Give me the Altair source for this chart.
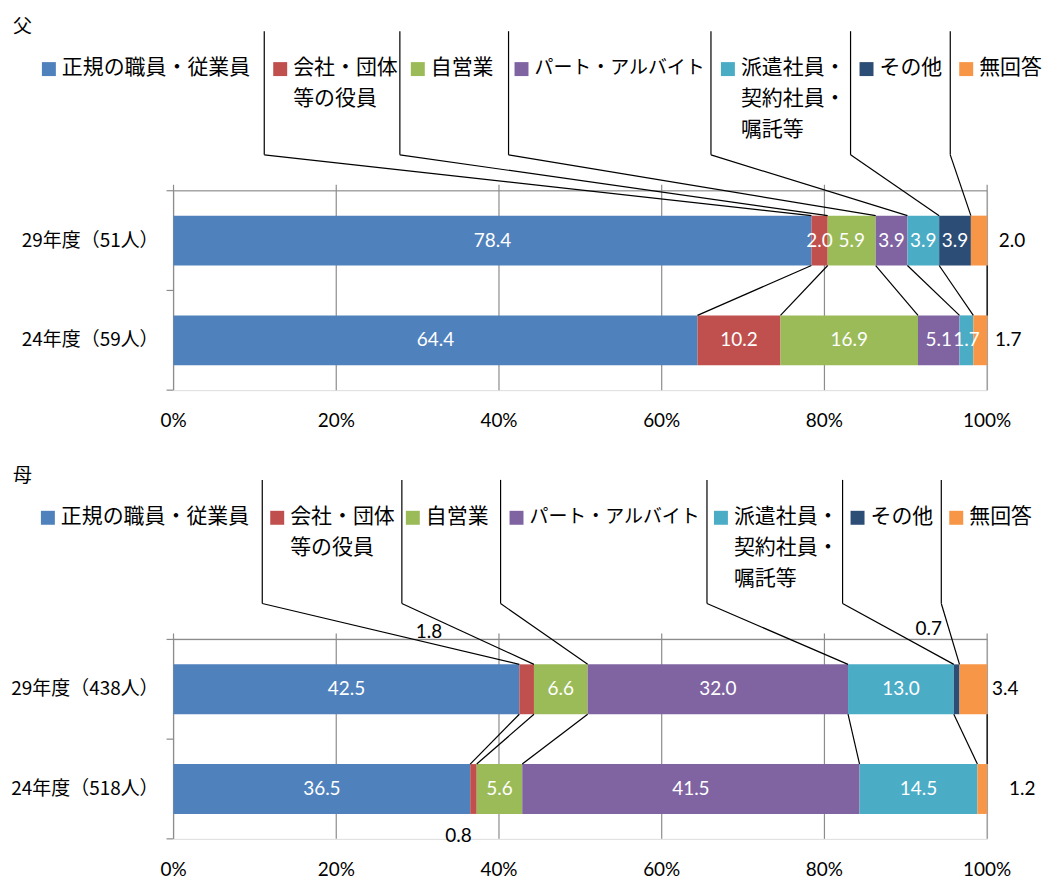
import altair as alt
import pandas as pd

# ---------------- data ----------------
CATEGORIES = ["正規の職員・従業員", "会社・団体等の役員", "自営業", "パート・アルバイト",
              "派遣社員・契約社員・嘱託等", "その他", "無回答"]
LEGEND_LABELS = ["正規の職員・従業員", "会社・団体\n等の役員", "自営業", "パート・アルバイト",
                 "派遣社員・\n契約社員・\n嘱託等", "その他", "無回答"]
COLORS = ["#4F81BD", "#C0504D", "#9BBB59", "#8064A2", "#4BACC6", "#2C4D75", "#F79646"]

FATHER_TITLE = "父"
FATHER_YEARS = ["29年度（51人）", "24年度（59人）"]
FATHER_H29 = [78.4, 2.0, 5.9, 3.9, 3.9, 3.9, 2.0]
FATHER_H24 = [64.4, 10.2, 16.9, 5.1, 1.7, None, 1.7]

MOTHER_TITLE = "母"
MOTHER_YEARS = ["29年度（438人）", "24年度（518人）"]
MOTHER_H29 = [42.5, 1.8, 6.6, 32.0, 13.0, 0.7, 3.4]
MOTHER_H24 = [36.5, 0.8, 5.6, 41.5, 14.5, None, 1.2]

X_TICKS = [0, 20, 40, 60, 80, 100]
X_TICK_LABELS = ["0%", "20%", "40%", "60%", "80%", "100%"]

# ---------------- layout / style ----------------
W, H = 816, 200
STEP = H / 2
BAND = STEP * 0.5
ORIGIN_X = 171          # page x of the 0% line (used only to place legend pieces)
GRID = "#8C8C8C"
CJK = "Noto Sans CJK JP"
NUM = "Lato"
LEG_Y = -123            # first legend line centre (px, relative to plot top)
LINE_H = 31
LEG_FONT = [21, 21, 21, 19, 21, 21, 21]
SEP_TOP, SEP_BOT = -160, -36

# legend swatch left edges and separator lines (page px)
FATHER_SW = [39, 271, 409, 513, 720, 859, 959]
FATHER_SEP = [262, 398, 507, 710, 850, 950]
MOTHER_SW = [38, 268, 404, 508, 713, 850, 949]
MOTHER_SEP = [260, 400, 499, 706, 842, 941]

# label nudges (px): (year index, category index) -> (dx, dy) from segment centre
FATHER_NUDGE = {(0, 6): (33, 0), (1, 6): (28, 0)}
MOTHER_NUDGE = {(0, 1): (-98, -57), (0, 5): (-28, -60), (0, 6): (32, 0),
                (1, 1): (-15, 47), (1, 6): (40, 0)}


def px2d(px):
    return (px - ORIGIN_X) * 100.0 / W


def panel(title, years, v29, v24, sw_px, sep_px, nudge):
    XS = alt.Scale(domain=[0, 100], nice=False, zero=False)
    YS = alt.Scale(domain=years, paddingInner=0.5, paddingOuter=0.25)
    CS = alt.Scale(domain=CATEGORIES, range=COLORS)

    bar_rows, in_rows, out_rows = [], [], []
    starts, ends = [{}, {}], [{}, {}]
    for yi, vals in enumerate([v29, v24]):
        total = sum(v for v in vals if v is not None)
        cum = 0.0
        for ci, v in enumerate(vals):
            if v is None:
                continue
            s = cum
            cum += v * 100.0 / total
            starts[yi][ci], ends[yi][ci] = s, cum
            mid = (s + cum) / 2
            row = dict(year=years[yi], cat=CATEGORIES[ci], start=s, end=cum,
                       mid=mid, label=f"{v:.1f}")
            bar_rows.append(row)
            if (yi, ci) in nudge:
                dx, dy = nudge[(yi, ci)]
                out_rows.append(dict(year=years[yi], lx=mid + dx * 100.0 / W,
                                     dy=dy + BAND / 2, label=f"{v:.1f}"))
            else:
                in_rows.append(row)
    bar_df = pd.DataFrame(bar_rows)
    in_df = pd.DataFrame(in_rows)
    out_df = pd.DataFrame(out_rows)

    series_df = pd.DataFrame([dict(a=ends[0][ci], b=ends[1][ci])
                              for ci in range(len(CATEGORIES))
                              if ci in ends[0] and ci in ends[1]])
    lead_df = pd.DataFrame([dict(s=px2d(sep_px[k - 1]), t=starts[0][k])
                            for k in range(1, len(CATEGORIES))])
    sw_df = pd.DataFrame([dict(cat=CATEGORIES[i], x=px2d(sw_px[i] + 7))
                          for i in range(len(CATEGORIES))])
    lt_rows = []
    for i, lab in enumerate(LEGEND_LABELS):
        for li, part in enumerate(lab.split("\n")):
            lt_rows.append(dict(x=px2d(sw_px[i] + 20), ly=LEG_Y + li * LINE_H,
                                t=part, fs=LEG_FONT[i]))
    lt_df = pd.DataFrame(lt_rows)
    xt_df = pd.DataFrame({"v": X_TICKS, "t": X_TICK_LABELS})
    yl_df = pd.DataFrame({"year": years})
    ytick_df = pd.DataFrame({"p": [0, STEP, 2 * STEP]})

    grid = alt.Chart(pd.DataFrame({"v": X_TICKS})).mark_rule(
        color=GRID, strokeWidth=1.2).encode(
        x=alt.X("v:Q", scale=XS, axis=None), y=alt.value(-6), y2=alt.value(H))
    topline = alt.Chart(pd.DataFrame({"a": [0], "b": [100]})).mark_rule(
        color=GRID, strokeWidth=1.2).encode(
        x=alt.X("a:Q", scale=XS, axis=None), x2="b:Q", y=alt.value(0))
    yticks = alt.Chart(ytick_df).mark_rule(color=GRID, strokeWidth=1.2).encode(
        x=alt.value(-7), x2=alt.value(0), y=alt.Y("p:Q", scale=None))

    bars = alt.Chart(bar_df).mark_bar(strokeWidth=0).encode(
        x=alt.X("start:Q", scale=XS, axis=None),
        x2="end:Q",
        y=alt.Y("year:N", sort=years, scale=YS, axis=None),
        color=alt.Color("cat:N", scale=CS, legend=None),
    )

    ylabels = alt.Chart(yl_df).mark_text(
        align="right", baseline="middle", font=CJK, fontSize=19, color="#000").encode(
        x=alt.value(-15), y=alt.Y("year:N", sort=years, scale=YS, axis=None),
        text="year:N")
    xlabels = alt.Chart(xt_df).mark_text(
        align="center", baseline="middle", font=NUM, fontSize=19, color="#000").encode(
        x=alt.X("v:Q", scale=XS, axis=None), y=alt.value(H + 31), text="t:N")

    series = alt.Chart(series_df).mark_rule(color="black", strokeWidth=1.2).encode(
        x=alt.X("a:Q", scale=XS, axis=None), x2="b:Q",
        y=alt.value(STEP * 0.75), y2=alt.value(STEP * 1.25))
    lead_v = alt.Chart(lead_df).mark_rule(color="black", strokeWidth=1.2).encode(
        x=alt.X("s:Q", scale=XS, axis=None),
        y=alt.value(SEP_TOP), y2=alt.value(SEP_BOT))
    lead_d = alt.Chart(lead_df).mark_rule(color="black", strokeWidth=1.2).encode(
        x=alt.X("s:Q", scale=XS, axis=None), x2="t:Q",
        y=alt.value(SEP_BOT), y2=alt.value(STEP * 0.25))

    swatch = alt.Chart(sw_df).mark_square(size=196, opacity=1, strokeWidth=0).encode(
        x=alt.X("x:Q", scale=XS, axis=None), y=alt.value(LEG_Y + 1),
        color=alt.Color("cat:N", scale=CS, legend=None))
    legtext = alt.Chart(lt_df).mark_text(
        align="left", baseline="middle", font=CJK, color="#000").encode(
        x=alt.X("x:Q", scale=XS, axis=None), y=alt.Y("ly:Q", scale=None),
        size=alt.Size("fs:Q", scale=None, legend=None), text="t:N")

    lab_in = alt.Chart(in_df).mark_text(
        color="white", font=NUM, fontSize=19, baseline="middle").encode(
        x=alt.X("mid:Q", scale=XS, axis=None),
        y=alt.Y("year:N", sort=years, scale=YS, axis=None), text="label:N")
    lab_out = alt.Chart(out_df).mark_text(
        color="#000", font=NUM, fontSize=19, baseline="middle").encode(
        x=alt.X("lx:Q", scale=XS, axis=None),
        y=alt.Y("year:N", sort=years, scale=YS, axis=None),
        yOffset=alt.YOffset("dy:Q", scale=None), text="label:N")

    ttl = alt.Chart(pd.DataFrame({"t": [title]})).mark_text(
        align="left", baseline="middle", font=CJK, fontSize=19, color="#000").encode(
        x=alt.value(-161), y=alt.value(-164), text="t:N")

    return alt.layer(grid, topline, yticks, bars, ylabels, xlabels, series, lead_v,
                     lead_d, swatch, legtext, lab_in, lab_out, ttl
                     ).properties(width=W, height=H)


father = panel(FATHER_TITLE, FATHER_YEARS, FATHER_H29, FATHER_H24,
               FATHER_SW, FATHER_SEP, FATHER_NUDGE)
mother = panel(MOTHER_TITLE, MOTHER_YEARS, MOTHER_H29, MOTHER_H24,
               MOTHER_SW, MOTHER_SEP, MOTHER_NUDGE)

chart = alt.vconcat(father, mother, spacing=250, bounds="flush").properties(
    padding={"left": 2, "top": 8, "right": 0, "bottom": 0}
).configure_view(strokeWidth=0).configure(background="white")

chart.save("out.html", embed_options={"renderer": "svg", "actions": False})
